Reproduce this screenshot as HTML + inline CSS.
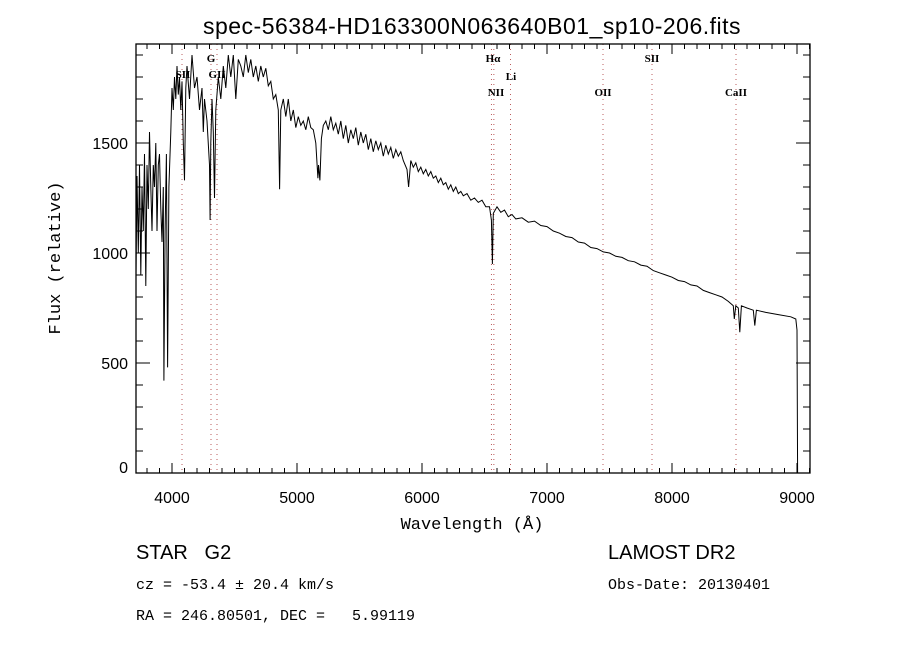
<!DOCTYPE html>
<html><head><meta charset="utf-8"><style>
body{margin:0;background:#fff;}
svg{display:block;font-family:"Liberation Serif",serif;}
</style></head><body>
<svg id="chart" width="900" height="650" viewBox="0 0 900 650">
<rect width="900" height="650" fill="#fff"/>
<text x="472" y="34" font-size="23" text-anchor="middle" font-family="Liberation Sans, sans-serif" letter-spacing="0.5">spec-56384-HD163300N063640B01_sp10-206.fits</text>
<g id="lines"></g>
<g id="ticks"></g>
<path id="spec" fill="none" stroke="#000" stroke-width="1"/>
<rect x="136" y="44" width="674" height="429" fill="none" stroke="#000" stroke-width="1.3"/>
<text x="472" y="529" font-size="17" text-anchor="middle" font-family="Liberation Mono, monospace">Wavelength (Å)</text>
<text transform="translate(60,258) rotate(-90)" font-size="17" text-anchor="middle" font-family="Liberation Mono, monospace">Flux (relative)</text>
<text x="136" y="559" font-size="20" font-family="Liberation Sans, sans-serif" xml:space="preserve">STAR   G2</text>
<text x="608" y="559" font-size="20" font-family="Liberation Sans, sans-serif">LAMOST DR2</text>
<text x="136" y="589" font-size="15" font-family="Liberation Mono, monospace">cz = -53.4 ± 20.4 km/s</text>
<text x="608" y="589" font-size="15" font-family="Liberation Mono, monospace">Obs-Date: 20130401</text>
<text x="136" y="620" font-size="15" font-family="Liberation Mono, monospace" xml:space="preserve">RA = 246.80501, DEC =   5.99119</text>
</svg>
<script>
const wavelengths=[3712,3720,3730,3740,3750,3760,3770,3780,3790,3800,3810,3820,3830,3840,3850,3860,3870,3880,3890,3900,3910,3920,3930,3935,3945,3955,3965,3975,3990,4000,4010,4020,4030,4040,4050,4060,4070,4080,4090,4100,4110,4120,4140,4160,4180,4200,4220,4240,4250,4260,4280,4300,4305,4310,4320,4330,4340,4350,4370,4390,4410,4430,4450,4470,4490,4510,4530,4550,4570,4590,4610,4630,4650,4670,4690,4710,4730,4750,4770,4790,4810,4830,4850,4861,4870,4890,4910,4930,4950,4970,4990,5010,5030,5050,5070,5090,5110,5130,5150,5167,5172,5183,5195,5210,5230,5250,5270,5290,5310,5330,5350,5370,5390,5410,5430,5450,5470,5490,5510,5530,5550,5570,5590,5610,5630,5650,5670,5690,5710,5730,5750,5770,5790,5810,5830,5850,5880,5893,5910,5930,5950,5970,5990,6010,6030,6050,6070,6090,6110,6130,6150,6170,6190,6210,6230,6250,6270,6290,6310,6330,6360,6390,6420,6450,6480,6510,6540,6555,6563,6570,6600,6630,6660,6690,6720,6750,6800,6850,6900,6950,7000,7050,7100,7150,7200,7250,7300,7350,7400,7450,7500,7550,7600,7650,7700,7750,7800,7850,7900,7950,8000,8050,8100,8150,8200,8250,8300,8350,8400,8450,8490,8498,8510,8530,8542,8555,8600,8650,8662,8675,8750,8850,8950,8990,9000,9005];
const fluxes=[900,1350,1000,1400,900,1300,1100,1450,850,1400,1200,1550,1300,1100,1400,1300,1500,1100,1400,1450,1200,1050,1300,420,1100,1450,480,1300,1550,1750,1650,1800,1700,1850,1720,1800,1650,1780,1500,1330,1750,1850,1700,1900,1750,1800,1650,1750,1550,1700,1600,1400,1150,1500,1700,1550,1250,1650,1800,1700,1850,1750,1900,1800,1900,1700,1880,1850,1800,1900,1820,1880,1800,1850,1780,1850,1800,1840,1760,1780,1700,1720,1650,1290,1650,1700,1620,1700,1600,1650,1570,1620,1580,1600,1560,1620,1570,1560,1500,1340,1400,1330,1520,1580,1600,1560,1620,1560,1590,1540,1600,1520,1580,1500,1560,1520,1570,1490,1550,1500,1540,1470,1520,1460,1510,1470,1500,1440,1490,1450,1480,1430,1470,1440,1460,1420,1380,1300,1420,1390,1410,1370,1390,1360,1380,1350,1370,1340,1350,1320,1340,1310,1320,1290,1310,1280,1300,1270,1280,1260,1270,1240,1250,1230,1240,1210,1210,1150,950,1180,1210,1185,1195,1165,1175,1155,1160,1140,1145,1125,1120,1100,1090,1075,1070,1050,1045,1025,1020,1005,1000,985,980,965,960,945,940,920,910,900,890,875,870,855,850,830,820,810,800,780,760,700,760,750,640,760,750,740,670,740,730,720,710,700,650,0];
const xTickValues=[4000,5000,6000,7000,8000,9000];
const yTickValues=[0,500,1000,1500];
const lineWavelengths=[4080,4312,4360,6555,6575,6708,7448,7840,8512];
const lineLabels=["SII","G","GII","Hα","NII","Li","OII","SII","CaII"];
const lineLabelY=[78,62,78,62,96,80,96,62,96];
const lineLabelX=[183,211,217,493,496,511,603,652,736];
const X=w=>172+(w-4000)*0.125;
const Y=f=>473-f*0.22;
const NS="http://www.w3.org/2000/svg";
let d="";
wavelengths.forEach((w,i)=>{d+=(i?"L":"M")+X(w).toFixed(1)+","+Math.max(44,Y(fluxes[i])).toFixed(1);});
document.getElementById('spec').setAttribute('d',d);
const lg=document.getElementById('lines');
lineWavelengths.forEach((w,i)=>{
  const l=document.createElementNS(NS,'line');
  
  
  l.setAttribute('x1',X(w));l.setAttribute('x2',X(w));l.setAttribute('y1',44);l.setAttribute('y2',473);
  l.setAttribute('stroke','#a33');l.setAttribute('stroke-width','0.8');l.setAttribute('stroke-dasharray','1,4');
  lg.appendChild(l);
  const t=document.createElementNS(NS,'text');
  
  
  t.setAttribute('x',lineLabelX[i]);t.setAttribute('y',lineLabelY[i]);
  t.setAttribute('font-size','11');t.setAttribute('text-anchor','middle');t.setAttribute('font-weight','bold');
  t.textContent=lineLabels[i];
  lg.appendChild(t);
});
const tg=document.getElementById('ticks');
function ln(x1,y1,x2,y2){const l=document.createElementNS(NS,'line');
  
  
  l.setAttribute('x1',x1);l.setAttribute('y1',y1);l.setAttribute('x2',x2);l.setAttribute('y2',y2);l.setAttribute('stroke','#000');tg.appendChild(l);}
for(let w=3800;w<=9100;w+=100){const x=X(w);const L=(w%1000===0)?10:5;ln(x,473,x,473-L);ln(x,44,x,44+L);}
for(let f=0;f<=1900;f+=100){const y=Y(f);const L=(f%500===0)?14:7;ln(136,y,136+L,y);ln(810,y,810-L,y);}
xTickValues.forEach(v=>{const t=document.createElementNS(NS,'text');
  
  
  t.setAttribute('x',X(v));t.setAttribute('y',503);t.setAttribute('font-size','16');t.setAttribute('text-anchor','middle');t.setAttribute('font-family','Liberation Sans, sans-serif');t.textContent=v;tg.appendChild(t);});
yTickValues.forEach(v=>{const t=document.createElementNS(NS,'text');
  
  
  t.setAttribute('x',128);t.setAttribute('y',Math.min(Y(v)+6,473));t.setAttribute('font-size','16');t.setAttribute('text-anchor','end');t.setAttribute('font-family','Liberation Sans, sans-serif');t.textContent=v;tg.appendChild(t);});
</script>
</body></html>
